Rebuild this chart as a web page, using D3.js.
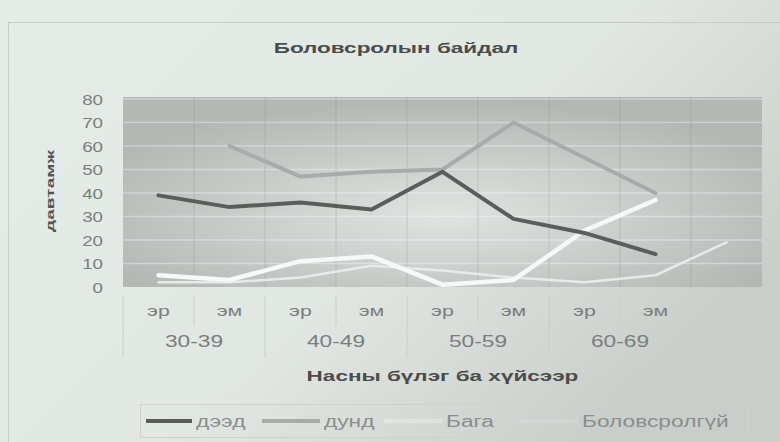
<!DOCTYPE html>
<html>
<head>
<meta charset="utf-8">
<script src="https://cdn.jsdelivr.net/npm/d3@7"></script>
<style>
  body { margin: 0; background: #e3e9e5; }
  svg { display: block; }
</style>
</head>
<body>
<svg width="780" height="442"></svg>
<script>
// categories: sex within age group (last slot has no label)
var sexLabels = ["эр", "эм", "эр", "эм", "эр", "эм", "эр", "эм", ""];
var ageGroups = ["30-39", "40-49", "50-59", "60-69"];
var yTicks = [0, 10, 20, 30, 40, 50, 60, 70, 80];

var deed = [39, 34, 36, 33, 49, 29, 23, 14, null];
var dund = [null, 60, 47, 49, 50, 70, 55, 40, null];
var baga = [5, 3, 11, 13, 1, 3, 24, 37, null];
var bolovsrolgui = [2, 2, 4, 9, 7, 4, 2, 5, 19];

var seriesNames = ["дээд", "дунд", "Бага", "Боловсролгүй"];

var svg = d3.select("svg");
var W = 780, H = 442;
var STRETCH = 1.42; // photo looks stretched sideways

var defs = svg.append("defs");
var pageGrad = defs.append("linearGradient").attr("id", "pageGrad")
  .attr("x1", "0").attr("y1", "0").attr("x2", "1").attr("y2", "0.6");
pageGrad.append("stop").attr("offset", "0").attr("stop-color", "#e6ece8");
pageGrad.append("stop").attr("offset", "0.6").attr("stop-color", "#e1e7e3");
pageGrad.append("stop").attr("offset", "1").attr("stop-color", "#c9cecb");

var plotGrad = defs.append("radialGradient").attr("id", "plotGrad")
  .attr("cx", "0.5").attr("cy", "0.62").attr("r", "0.6")
  .attr("fx", "0.5").attr("fy", "0.62");
plotGrad.append("stop").attr("offset", "0").attr("stop-color", "#e0e4e1");
plotGrad.append("stop").attr("offset", "0.45").attr("stop-color", "#cdd1ce");
plotGrad.append("stop").attr("offset", "1").attr("stop-color", "#b4b8b5");

svg.append("rect").attr("width", W).attr("height", H).attr("fill", "url(#pageGrad)");
svg.append("rect").attr("x", 8.5).attr("y", 22.5).attr("width", 800).attr("height", 430)
  .attr("fill", "none").attr("stroke", "#c6ccc8");

function stretch(sel, f) {
  sel.each(function () {
    var len = this.getComputedTextLength();
    if (len > 0) {
      d3.select(this).attr("textLength", len * (f || STRETCH)).attr("lengthAdjust", "spacingAndGlyphs");
    }
  });
  return sel;
}

var margin = {top: 99, right: 18, bottom: 155, left: 123};
var x = d3.scaleBand().domain(d3.range(sexLabels.length)).range([margin.left, W - margin.right]);
var y = d3.scaleLinear().domain([0, 80]).range([H - margin.bottom, margin.top]);
var bw = x.bandwidth();
var x0 = x.range()[0], x1 = x.range()[1];

// plot area
svg.append("rect").attr("x", x0).attr("y", y(80) - 2).attr("width", x1 - x0).attr("height", y(0) - y(80) + 2)
  .attr("fill", "url(#plotGrad)");

// horizontal grid
svg.append("g").selectAll("line").data(yTicks.slice(1)).enter().append("line")
  .attr("x1", x0).attr("x2", x1)
  .attr("y1", function(d) { return y(d); }).attr("y2", function(d) { return y(d); })
  .attr("stroke", "rgba(255,255,255,0.35)").attr("stroke-width", 1.5);

// vertical grid at category boundaries
svg.append("g").selectAll("line").data(d3.range(1, sexLabels.length)).enter().append("line")
  .attr("x1", function(i) { return x0 + i * bw; }).attr("x2", function(i) { return x0 + i * bw; })
  .attr("y1", y(80) - 2).attr("y2", y(0))
  .attr("stroke", "rgba(130,136,132,0.28)").attr("stroke-width", 1);

// y axis
var yAxis = svg.append("g").attr("transform", "translate(" + (x0 - 20) + ",0)")
  .call(d3.axisLeft(y).tickValues(yTicks).tickSize(0).tickPadding(0));
yAxis.select(".domain").remove();
yAxis.selectAll("text").attr("fill", "#7a7e7c").style("font", "15px 'Liberation Sans', Arial, sans-serif")
  .attr("dy", "0.36em");
stretch(yAxis.selectAll("text"), 1.25);

svg.append("text").attr("transform", "translate(54,191) rotate(-90)")
  .attr("text-anchor", "middle").attr("fill", "#555")
  .style("font", "bold 10px 'Liberation Sans', Arial, sans-serif")
  .attr("textLength", 82).attr("lengthAdjust", "spacingAndGlyphs")
  .text("давтамж");

// category rows below the plot
var row1Top = y(0) + 8, row1Bot = row1Top + 30, row2Bot = row1Bot + 33;
var sepColor = "#cbd0cc";
svg.append("g").selectAll("line").data(d3.range(0, sexLabels.length + 1)).enter().append("line")
  .attr("x1", function(i) { return x0 + i * bw; }).attr("x2", function(i) { return x0 + i * bw; })
  .attr("y1", row1Top)
  .attr("y2", function(i) { return i % 2 === 0 ? row2Bot : row1Bot; })
  .attr("stroke", sepColor);

var sexText = svg.append("g").selectAll("text").data(sexLabels).enter().append("text")
  .attr("x", function(d, i) { return x(i) + bw / 2; }).attr("y", row1Top + 21)
  .attr("text-anchor", "middle").attr("fill", "#7a7e7c")
  .style("font", "15px 'Liberation Sans', Arial, sans-serif")
  .text(function(d) { return d; });
stretch(sexText);

var ageText = svg.append("g").selectAll("text").data(ageGroups).enter().append("text")
  .attr("x", function(d, i) { return x(i * 2) + bw; }).attr("y", row1Bot + 22)
  .attr("text-anchor", "middle").attr("fill", "#7a7e7c")
  .style("font", "16px 'Liberation Sans', Arial, sans-serif")
  .text(function(d) { return d; });
stretch(ageText);

// titles
stretch(svg.append("text").attr("x", 396).attr("y", 53).attr("text-anchor", "middle")
  .attr("fill", "#4a4d4b").style("font", "bold 15px 'Liberation Sans', Arial, sans-serif")
  .text("Боловсролын байдал"), 1.5);

stretch(svg.append("text").attr("x", (x0 + x1) / 2).attr("y", 381).attr("text-anchor", "middle")
  .attr("fill", "#4a4d4b").style("font", "bold 15px 'Liberation Sans', Arial, sans-serif")
  .text("Насны бүлэг ба хүйсээр"), 1.5);

// lines
var seriesData = [deed, dund, baga, bolovsrolgui];
var seriesColor = ["#5a5e5b", "#a8aca9", "#f6f9f7", "#e6ebe8"];
var seriesWidth = [4, 4, 4.5, 2.5];
var line = d3.line()
  .defined(function(d) { return d != null; })
  .x(function(d, i) { return x(i) + bw / 2; })
  .y(function(d) { return y(d); });

var drawOrder = [3, 2, 1, 0];
svg.append("g").selectAll("path").data(drawOrder).enter().append("path")
  .attr("d", function(k) { return line(seriesData[k]); })
  .attr("fill", "none")
  .attr("stroke", function(k) { return seriesColor[k]; })
  .attr("stroke-width", function(k) { return seriesWidth[k]; })
  .attr("stroke-linejoin", "round").attr("stroke-linecap", "round");

// legend (white lines barely show on the light box)
var lg = svg.append("g");
lg.append("rect").attr("x", 140.5).attr("y", 404.5).attr("width", 608).attr("height", 33)
  .attr("fill", "none").attr("stroke", "#cdd2ce");
var legX = [146, 262, 384, 520];
var item = lg.selectAll("g").data(seriesNames).enter().append("g")
  .attr("transform", function(d, i) { return "translate(" + legX[i] + ",421)"; });
item.append("line").attr("x1", 0).attr("x2", function(d, i) { return i === 0 ? 46 : 58; })
  .attr("stroke", function(d, i) { return seriesColor[i]; })
  .attr("stroke-opacity", function(d, i) { return i > 1 ? 0.35 : 1; })
  .attr("stroke-width", function(d, i) { return seriesWidth[i]; });
stretch(item.append("text").attr("x", function(d, i) { return i === 0 ? 50 : 62; }).attr("y", 6)
  .attr("fill", "#8a8e8c").style("font", "16px 'Liberation Sans', Arial, sans-serif")
  .text(function(d) { return d; }));
</script>
</body>
</html>
